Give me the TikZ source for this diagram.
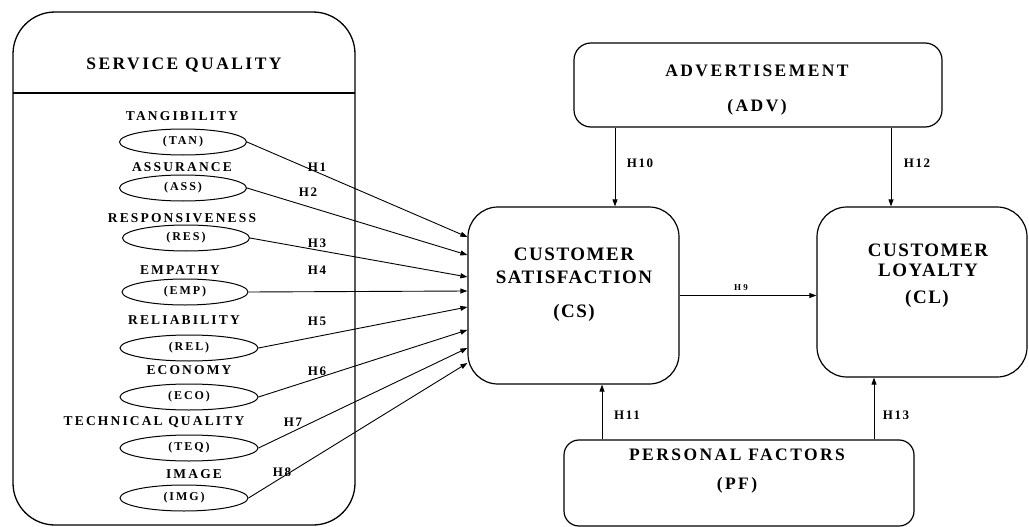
\documentclass[tikz,border=0pt]{standalone}
\usepackage{fontspec}
\setmainfont{Liberation Serif}
\usetikzlibrary{shapes.geometric,arrows.meta}
\tikzset{
  frame/.style={draw=black, line width=1.3pt, rounded corners=42pt},
  box/.style={draw=black, line width=1.2pt, inner sep=0pt},
  oval/.style={ellipse, draw=black, line width=1pt, minimum height=26pt, inner sep=0pt},
  arr/.style={draw=black, line width=0.9pt, -{Triangle[length=7pt,width=5pt]}},
  ttl/.style={inner sep=0pt, font=\fontsize{17.5}{20}\selectfont\bfseries\addfontfeature{LetterSpace=14}},
  core/.style={inner sep=0pt, font=\fontsize{19}{22}\selectfont\bfseries\addfontfeature{LetterSpace=8}},
  lab/.style={inner sep=0pt, font=\fontsize{13.5}{15}\selectfont\bfseries\addfontfeature{LetterSpace=16}},
  abbr/.style={inner sep=0pt, font=\fontsize{12}{14}\selectfont\bfseries\addfontfeature{LetterSpace=16}},
  hyp/.style={inner sep=0pt, font=\fontsize{13}{15}\selectfont\bfseries\addfontfeature{LetterSpace=12}},
}

\begin{document}
\begin{tikzpicture}[x=1pt, y=-1pt]
  \useasboundingbox (0,0) rectangle (1029,527);

  % service quality block
  \draw[frame] (13,12) rectangle (355,525);
  \draw[line width=1.2pt] (13,93) -- (355,93);
  \node[ttl] (sq) at (184,65) {SERVICE QUALITY};

  \foreach \nm/\txt/\ab/\x/\y/\w/\lx/\ly in {
      tan/TANGIBILITY/TAN/183/142/127/182/116,
      ass/ASSURANCE/ASS/183/188/127/182/167,
      res/RESPONSIVENESS/RES/186/238/127/182/218,
      emp/EMPATHY/EMP/185/292/126/180/270,
      rel/RELIABILITY/REL/189/348/138/184/320,
      eco/ECONOMY/ECO/189/397/138/189/370,
      teq/TECHNICAL QUALITY/TEQ/189/448/138/154/422,
      img/IMAGE/IMG/184/498/128/194/474}{
    \node[lab] (\nm-lab) at (\lx,\ly) {\txt};
    \node[oval, minimum width=\w pt, abbr] (\nm) at (\x,\y) {(\ab)};
  }

  % main constructs
  \node[box, rounded corners=30pt, minimum width=211pt, minimum height=177pt] (cs) at (573.5,295.5) {};
  \node[core] (cs-a) at (574,254) {CUSTOMER};
  \node[core] (cs-b) at (574,277) {SATISFACTION};
  \node[core] (cs-c) at (574,313) {(CS)};

  \node[box, rounded corners=30pt, minimum width=210pt, minimum height=170pt] (cl) at (922,292) {};
  \node[core] (cl-a) at (928,250) {CUSTOMER};
  \node[core] (cl-b) at (928,270) {LOYALTY};
  \node[core] (cl-c) at (927,299) {(CL)};

  \node[box, rounded corners=17pt, minimum width=368pt, minimum height=84pt] (adv) at (758,85) {};
  \node[ttl] (adv-a) at (757,71) {ADVERTISEMENT};
  \node[ttl] (adv-b) at (757,107) {(ADV)};

  \node[box, rounded corners=15pt, minimum width=350pt, minimum height=86pt] (pf) at (739,483) {};
  \node[ttl] (pf-a) at (737,455) {PERSONAL FACTORS};
  \node[ttl] (pf-b) at (737,485) {(PF)};

  % hypotheses into satisfaction
  \foreach \nm/\h/\hx/\hy/\tip in {
      tan/H1/317/167/237, ass/H2/308/192/255, res/H3/317/243/277,
      emp/H4/317/270/291, rel/H5/317/321/307, eco/H6/317/371/330,
      teq/H7/293/422/348, img/H8/282/472/363}{
    \draw[arr] (\nm.east) -- (cs.west |- 0,\tip);
    \node[hyp] (\nm-h) at (\hx,\hy) {\h};
  }

  \draw[arr] (cs.east) -- (cl.west |- cs.east);
  \node[inner sep=0pt, font=\fontsize{9}{10}\selectfont\bfseries\addfontfeature{LetterSpace=25}] (h9) at (741,288) {H9};

  \draw[arr] (adv.south -| 615,0) -- (cs.north -| 615,0);
  \node[hyp] (h10) at (640,163) {H10};
  \draw[arr] (adv.south -| 891,0) -- (cl.north -| 891,0);
  \node[hyp] (h12) at (917,163) {H12};
  \draw[arr] (pf.north -| 602,0) -- (cs.south -| 602,0);
  \node[hyp] (h11) at (627,415) {H11};
  \draw[arr] (pf.north -| 874,0) -- (cl.south -| 874,0);
  \node[hyp] (h13) at (896,415) {H13};
\end{tikzpicture}
\end{document}
